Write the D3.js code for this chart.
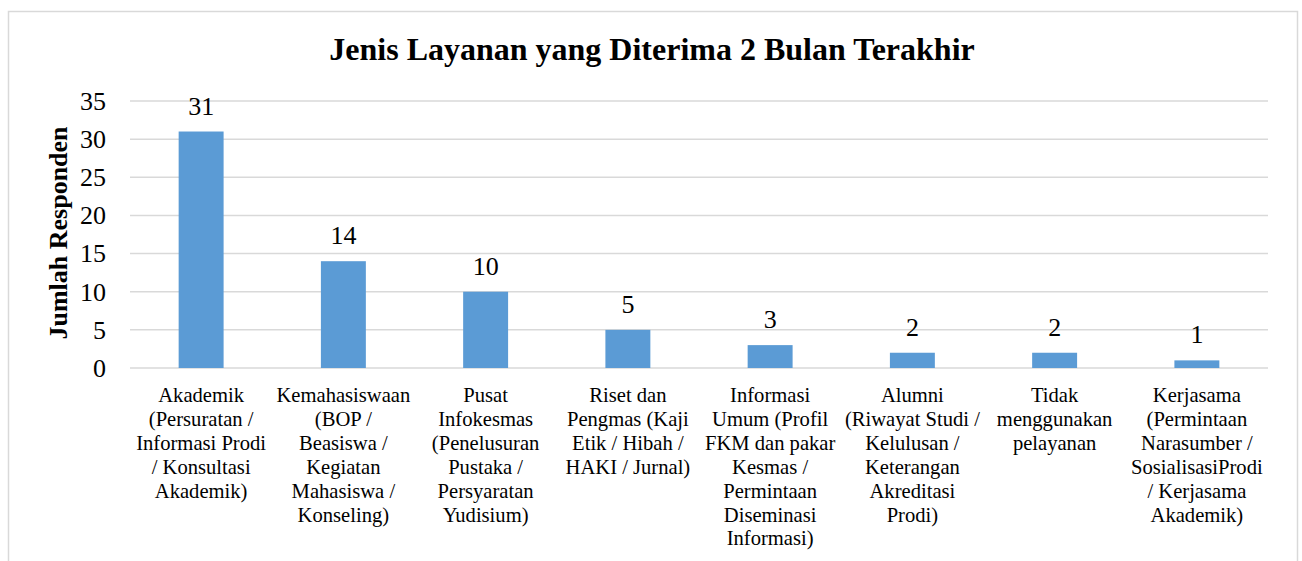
<!DOCTYPE html>
<html>
<head>
<meta charset="utf-8">
<script src="https://cdn.jsdelivr.net/npm/d3@7"></script>
<style>
  html, body { margin: 0; padding: 0; background: #fff; }
  svg { display: block; }
</style>
</head>
<body>
<svg id="chart" width="1302" height="561"></svg>
<script>
const title = "Jenis Layanan yang Diterima 2 Bulan Terakhir";
const yAxisTitle = "Jumlah Responden";
const categories = [
  "Akademik\n(Persuratan /\nInformasi Prodi\n/ Konsultasi\nAkademik)",
  "Kemahasiswaan\n(BOP /\nBeasiswa /\nKegiatan\nMahasiswa /\nKonseling)",
  "Pusat\nInfokesmas\n(Penelusuran\nPustaka /\nPersyaratan\nYudisium)",
  "Riset dan\nPengmas (Kaji\nEtik / Hibah /\nHAKI / Jurnal)",
  "Informasi\nUmum (Profil\nFKM dan pakar\nKesmas /\nPermintaan\nDiseminasi\nInformasi)",
  "Alumni\n(Riwayat Studi /\nKelulusan /\nKeterangan\nAkreditasi\nProdi)",
  "Tidak\nmenggunakan\npelayanan",
  "Kerjasama\n(Permintaan\nNarasumber /\nSosialisasiProdi\n/ Kerjasama\nAkademik)"
];
const values = [31, 14, 10, 5, 3, 2, 2, 1];
const yTicks = [0, 5, 10, 15, 20, 25, 30, 35];

const svg = d3.select("#chart");
const serif = "'Liberation Serif', 'Times New Roman', Times, serif";
const plot = { left: 130, right: 1268, top: 101, bottom: 368 };

// frame
svg.append("path")
  .attr("d", "M8.5,600 L8.5,11.5 L1297.5,11.5 L1297.5,600")
  .attr("fill", "none").attr("stroke", "#d9d9d9").attr("stroke-width", 1.5);

const x = d3.scaleBand().domain(categories).range([plot.left, plot.right]).paddingInner(0.684).paddingOuter(0.342);
const y = d3.scaleLinear().domain([0, 35]).range([plot.bottom, plot.top]);

// gridlines
svg.append("g").selectAll("line").data(yTicks).join("line")
  .attr("x1", plot.left).attr("x2", plot.right)
  .attr("y1", d => y(d)).attr("y2", d => y(d))
  .attr("stroke", "#d9d9d9").attr("stroke-width", 1.5);

// y axis tick labels
const yAxis = d3.axisLeft(y).tickValues(yTicks).tickSize(0).tickPadding(24);
const gy = svg.append("g").attr("transform", `translate(${plot.left},0)`).call(yAxis);
gy.select(".domain").remove();
gy.selectAll("text").attr("font-family", serif).attr("font-size", 26).attr("fill", "#000");

// bars
svg.append("g").selectAll("rect").data(values).join("rect")
  .attr("x", (d, i) => x(categories[i]))
  .attr("width", x.bandwidth())
  .attr("y", d => y(d))
  .attr("height", d => y(0) - y(d))
  .attr("fill", "#5B9BD5");

// data labels
svg.append("g").selectAll("text").data(values).join("text")
  .attr("x", (d, i) => x(categories[i]) + x.bandwidth() / 2)
  .attr("y", d => y(d) - 17)
  .attr("text-anchor", "middle")
  .attr("font-family", serif).attr("font-size", 26).attr("fill", "#000")
  .text(d => d);

// category labels
const cat = svg.append("g").selectAll("text").data(categories).join("text")
  .attr("text-anchor", "middle")
  .attr("font-family", serif).attr("font-size", 20.6).attr("fill", "#000");
cat.each(function(d) {
  const cx = x(d) + x.bandwidth() / 2;
  d3.select(this).selectAll("tspan").data(d.split("\n")).join("tspan")
    .attr("x", cx)
    .attr("y", (l, j) => 402 + j * 23.9)
    .text(l => l);
});

// title
svg.append("text")
  .attr("x", 652).attr("y", 60)
  .attr("text-anchor", "middle")
  .attr("font-family", serif).attr("font-size", 32).attr("font-weight", "bold")
  .attr("fill", "#000")
  .text(title);

// y axis title
svg.append("text")
  .attr("transform", "translate(58,233) rotate(-90)")
  .attr("text-anchor", "middle")
  .attr("dominant-baseline", "central")
  .attr("font-family", serif).attr("font-size", 26).attr("font-weight", "bold")
  .attr("fill", "#000")
  .text(yAxisTitle);
</script>
</body>
</html>
